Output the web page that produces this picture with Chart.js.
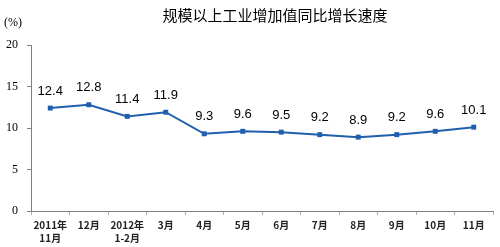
<!DOCTYPE html>
<html><head><meta charset="utf-8">
<script src="https://cdn.jsdelivr.net/npm/chart.js@4/dist/chart.umd.min.js"></script>
<style>html,body{margin:0;padding:0;background:#fff}#wrap{width:500px;height:247px}</style>
</head><body><div id="wrap"><canvas id="c" width="500" height="247"></canvas></div>
<script>
const categories = [["2011年","11月"],"12月",["2012年","1-2月"],"3月","4月","5月","6月","7月","8月","9月","10月","11月"];
const growth = [12.4,12.8,11.4,11.9,9.3,9.6,9.5,9.2,8.9,9.2,9.6,10.1];
const yTicks = [0,5,10,15,20];
const titleText = "规模以上工业增加值同比增长速度";
const unitText = "(%)";

const textPlugin = {
  id:'texts',
  afterDraw(chart){
    const ctx = chart.ctx;
    ctx.save();
    ctx.fillStyle = '#000';
    ctx.font = '15px "Noto Sans CJK SC"';
    ctx.textAlign = 'center'; ctx.textBaseline = 'middle';
    ctx.fillText(titleText, 275, 15);
    ctx.font = '12px "Liberation Serif"';
    ctx.textAlign = 'left';
    ctx.fillText(unitText, 4, 23);
    const meta = chart.getDatasetMeta(0);
    ctx.font = '13px "Liberation Sans"';
    ctx.textAlign = 'center';
    meta.data.forEach((p,i)=>{
      ctx.fillText(growth[i].toFixed(1), p.x, p.y - 17);
    });
    ctx.restore();
  }
};

new Chart(document.getElementById('c'), {
  type:'line',
  data:{labels:categories, datasets:[{data:growth, borderColor:'#1f5fae', backgroundColor:'#1f5fae', borderWidth:2, pointStyle:'rect', pointRadius:3.5, pointBorderWidth:0, tension:0}]},
  options:{
    responsive:false, animation:false,
    layout:{padding:{top:45,right:7,left:0,bottom:0}},
    plugins:{legend:{display:false}, tooltip:{enabled:false}},
    scales:{
      x:{type:'category', offset:true,
        grid:{offset:true, drawOnChartArea:false, tickLength:4, color:'#b0b0b0'},
        border:{color:'#808080', width:1},
        ticks:{color:'#222', font:{family:'"Noto Sans CJK SC"', size:10, weight:'bold', lineHeight:1.3}, padding:4, maxRotation:0, autoSkip:false},
        afterFit(s){ s.height = 36; }
      },
      y:{min:0,max:20,
        afterBuildTicks(s){ s.ticks = yTicks.map(v=>({value:v})); },
        grid:{drawOnChartArea:false, tickLength:4, color:'#808080'},
        border:{color:'#808080', width:1},
        ticks:{color:'#000', font:{family:'"Liberation Serif"', size:12}, padding:9},
        afterFit(s){ s.width = 31; }
      }
    }
  },
  plugins:[textPlugin]
});
</script></body></html>
